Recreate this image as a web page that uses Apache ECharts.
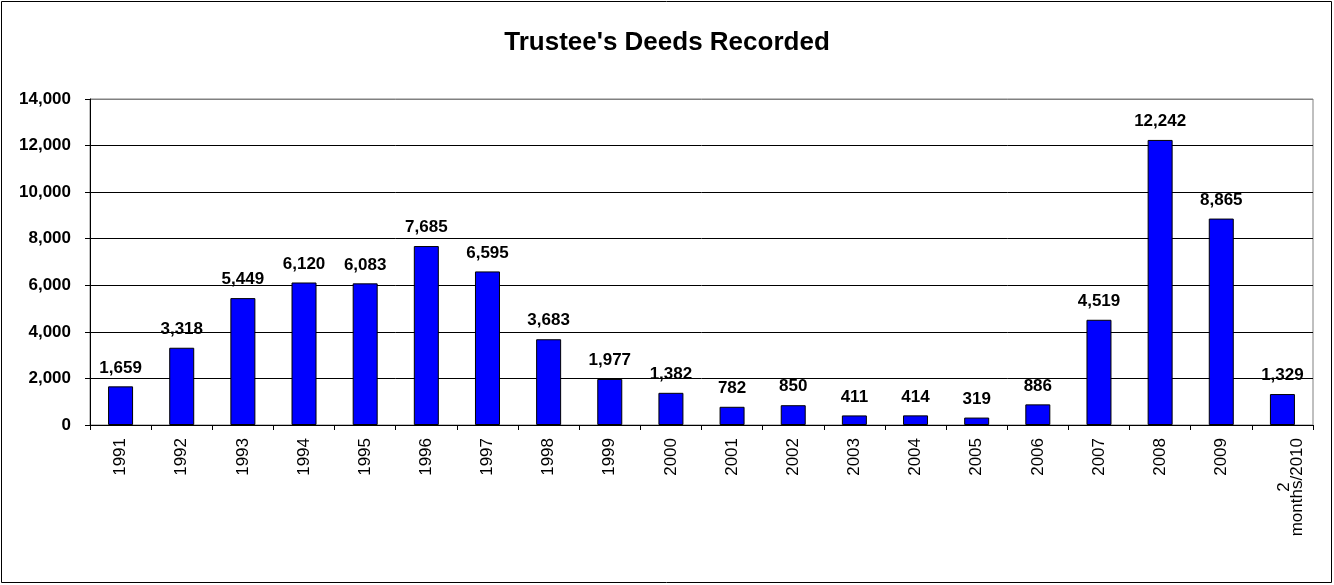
<!DOCTYPE html>
<html>
<head>
<meta charset="utf-8">
<script src="https://cdn.jsdelivr.net/npm/echarts@6/dist/echarts.min.js"></script>
<style>
  html, body { margin: 0; padding: 0; background: #fff; }
  #chart { width: 1334px; height: 585px; }
</style>
</head>
<body>
<div id="chart"></div>
<script>
// Annual count of trustee's deeds recorded
const categories = ['1991','1992','1993','1994','1995','1996','1997','1998','1999','2000',
  '2001','2002','2003','2004','2005','2006','2007','2008','2009','2\nmonths/2010'];
const deeds = [1659, 3318, 5449, 6120, 6083, 7685, 6595, 3683, 1977, 1382,
  782, 850, 411, 414, 319, 886, 4519, 12242, 8865, 1329];
const yTicks = { min: 0, max: 14000, interval: 2000 };

const font = '"Liberation Sans", Arial, sans-serif';
const chart = echarts.init(document.getElementById('chart'), null, { renderer: 'canvas' });

// multi-line category names: a leading spacer line, then each line centred in the rotated block
function categoryLabel(v) {
  if (v.indexOf('\n') < 0) return v;
  return '{sp| }\n' + v.split('\n').map(s => '{line|' + s + '}').join('\n');
}

chart.setOption({
  backgroundColor: '#fff',
  animation: false,
  title: {
    text: "Trustee's Deeds Recorded",
    left: 'center',
    top: 25,
    textStyle: { fontFamily: font, fontSize: 26, fontWeight: 'bold', color: '#000' }
  },
  graphic: [{
    type: 'rect',
    shape: { x: 1.5, y: 1.5, width: 1330, height: 581 },
    style: { fill: null, stroke: '#000', lineWidth: 1 },
    silent: true
  }],
  grid: {
    left: 90, right: 21, top: 99, bottom: 160,
    show: true, borderColor: '#808080', borderWidth: 1, backgroundColor: 'transparent'
  },
  xAxis: {
    type: 'category',
    data: categories,
    axisLine: { show: true, lineStyle: { color: '#000', width: 1 } },
    axisTick: { show: true, length: 5, lineStyle: { color: '#000' } },
    axisLabel: {
      rotate: 90, margin: 13, interval: 0,
      fontFamily: font, fontSize: 17, color: '#000',
      formatter: categoryLabel,
      rich: {
        sp: { fontSize: 4, lineHeight: 16 },
        line: { align: 'center', fontFamily: font, fontSize: 17, color: '#000', lineHeight: 13 }
      }
    }
  },
  yAxis: {
    type: 'value',
    min: yTicks.min, max: yTicks.max, interval: yTicks.interval,
    axisLine: { show: true, lineStyle: { color: '#000', width: 1 } },
    axisTick: { show: true, length: 5, lineStyle: { color: '#000' } },
    splitLine: {
      show: true,
      lineStyle: { color: ['#000', '#000', '#000', '#000', '#000', '#000', '#000', '#808080'], width: 1 }
    },
    axisLabel: {
      margin: 19,
      fontFamily: font, fontSize: 17, fontWeight: 'bold', color: '#000',
      formatter: v => v.toLocaleString('en-US')
    }
  },
  series: [{
    type: 'bar',
    data: deeds,
    barWidth: 25,
    itemStyle: { color: '#0000FF', borderColor: '#000', borderWidth: 1 },
    label: {
      show: true, position: 'top', distance: 10,
      fontFamily: font, fontSize: 17, fontWeight: 'bold', color: '#000',
      formatter: p => p.value.toLocaleString('en-US')
    }
  }]
});
</script>
</body>
</html>
